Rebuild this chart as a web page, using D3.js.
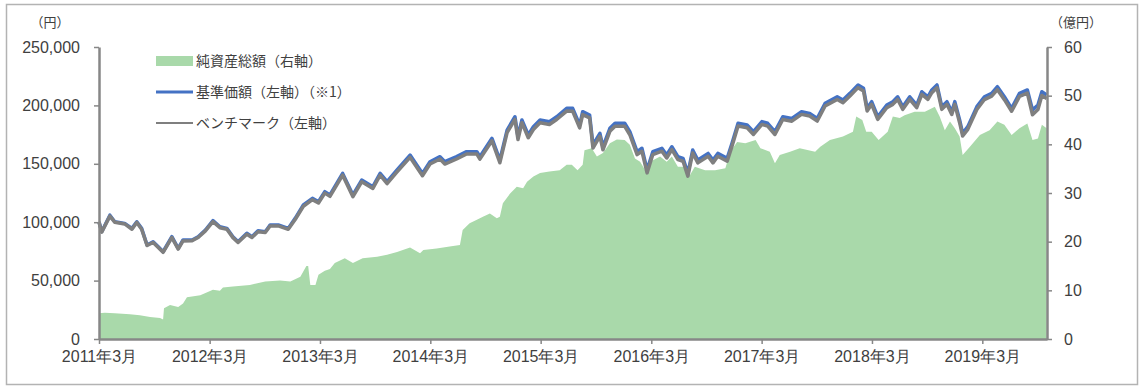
<!DOCTYPE html>
<html>
<head>
<meta charset="utf-8">
<script src="https://cdn.jsdelivr.net/npm/d3@7"></script>
<style>
  body { margin: 0; background: #fff; }
  svg { display: block; font-family: "Noto Sans CJK JP", "Noto Sans", sans-serif; }
</style>
</head>
<body>
<div id="chart"></div>
<script>
// 基準価額・ベンチマーク（左軸、円）
var navDates = ["2011-03-01","2011-03-10","2011-04-06","2011-04-22","2011-05-25","2011-06-18","2011-07-04","2011-07-20","2011-08-07","2011-08-27",
  "2011-09-13","2011-09-29","2011-10-28","2011-11-18","2011-12-04","2012-01-03","2012-01-23","2012-02-16","2012-03-12","2012-04-04",
  "2012-04-27","2012-05-17","2012-06-03","2012-07-02","2012-07-19","2012-08-08","2012-09-01","2012-09-17","2012-10-14","2012-11-16",
  "2012-12-09","2013-01-05","2013-02-04","2013-02-24","2013-03-17","2013-04-03","2013-05-15","2013-06-18","2013-07-17","2013-08-23",
  "2013-09-16","2013-10-09","2013-11-11","2013-12-24","2014-02-03","2014-02-28","2014-04-02","2014-04-18","2014-05-27","2014-06-29",
  "2014-08-02","2014-08-12","2014-09-21","2014-10-17","2014-11-10","2014-12-06","2014-12-16","2014-12-29","2015-01-19","2015-02-05",
  "2015-02-27","2015-03-30","2015-04-23","2015-05-26","2015-06-15","2015-07-08","2015-07-18","2015-08-10","2015-08-21","2015-09-13",
  "2015-09-23","2015-10-16","2015-11-02","2015-12-04","2015-12-21","2016-01-14","2016-01-30","2016-02-16","2016-03-06","2016-04-05",
  "2016-04-21","2016-05-08","2016-05-28","2016-06-14","2016-06-30","2016-07-16","2016-08-02","2016-09-05","2016-09-21","2016-10-07",
  "2016-11-07","2016-11-23","2016-12-13","2017-01-12","2017-02-02","2017-03-02","2017-03-21","2017-04-14","2017-05-10","2017-06-09",
  "2017-07-11","2017-08-07","2017-09-01","2017-09-27","2017-11-06","2017-11-25","2017-12-18","2018-01-14","2018-02-01","2018-02-13",
  "2018-02-28","2018-03-20","2018-04-19","2018-05-09","2018-05-25","2018-06-11","2018-07-04","2018-07-27","2018-08-13","2018-09-02",
  "2018-09-15","2018-10-02","2018-10-18","2018-11-04","2018-11-20","2018-11-30","2018-12-16","2018-12-26","2019-01-12","2019-02-11",
  "2019-03-08","2019-04-01","2019-04-20","2019-05-13","2019-06-06","2019-07-02","2019-07-28","2019-08-14","2019-09-01","2019-09-14",
  "2019-09-30"];
var navValues = [100400,91900,106000,100400,99000,94700,100400,94700,80500,83300,
  79000,74700,87600,77600,84800,84800,87600,93300,101300,96100,
  94700,87600,83300,90500,87600,92700,91900,97600,97600,94700,
  103300,114700,120400,117500,126100,123300,141800,123300,136100,130400,
  141800,134700,144700,157500,141800,151800,156100,151800,156100,160400,
  160400,156100,171800,153200,178900,190300,173200,187500,174700,181800,
  187500,186100,190300,197500,197500,183200,194600,191800,166100,176100,
  164600,180400,184700,184700,177500,160400,163300,144700,160400,163300,
  157500,164600,156100,154700,141800,161800,153200,158900,153200,158900,
  154700,167500,184700,183200,177500,186100,184700,177500,190300,188900,
  194600,193200,188900,201800,207400,204600,210300,217500,214600,197500,
  203200,190300,200300,203200,207400,198900,207400,200300,211700,207400,
  213200,217500,198900,203200,194600,203200,187500,176100,181800,198900,
  207400,210300,216000,207400,197500,210300,213200,196100,200300,211700,
  208900];
var benchValues = [100000,91500,105200,100000,98500,94000,99800,94000,80000,82600,
  78400,74200,86800,77000,84000,84200,86900,92600,100500,95300,
  94000,86800,82700,89700,86900,91800,91200,96700,96800,93900,
  102300,113600,119300,116400,124900,122100,140300,121900,134600,128900,
  140200,133100,143000,155500,139800,149800,154100,149800,154100,158400,
  158300,154000,169700,150900,176700,188000,170800,185200,172300,179400,
  185100,183700,187900,195100,195000,180700,192100,189300,163500,173600,
  162000,177800,182100,182100,174900,157800,160700,142200,157900,160800,
  155000,162100,153600,152200,139400,159300,150800,156500,150800,156500,
  152300,165100,182300,180800,175100,183700,182300,175100,187900,186500,
  192300,190900,186600,199500,205100,202300,208000,215200,212300,195200,
  200900,188000,198000,200900,205100,196600,205100,198000,209400,205100,
  210900,215200,196600,200900,192300,200900,185200,173800,179500,196500,
  205000,207900,213500,204900,195000,207700,210500,192000,196500,208500,
  206000];

// 純資産総額（右軸、億円）
var assetDates = ["2011-03-01","2011-03-20","2011-04-22","2011-06-11","2011-07-14","2011-08-17","2011-09-19","2011-09-29","2011-10-02","2011-10-22",
  "2011-11-18","2011-12-04","2011-12-17","2012-01-30","2012-03-12","2012-04-04","2012-04-14","2012-05-17","2012-07-12","2012-09-01",
  "2012-10-20","2012-11-23","2012-12-26","2013-01-15","2013-01-21","2013-01-28","2013-02-14","2013-02-24","2013-03-17","2013-04-03",
  "2013-04-19","2013-05-22","2013-06-18","2013-07-20","2013-09-06","2013-10-09","2013-11-11","2013-12-24","2014-01-26","2014-02-06",
  "2014-03-22","2014-05-04","2014-06-07","2014-06-16","2014-07-09","2014-08-02","2014-08-22","2014-09-14","2014-10-07","2014-10-17",
  "2014-10-27","2014-11-20","2014-12-12","2015-01-02","2015-01-15","2015-02-05","2015-02-27","2015-03-30","2015-05-03","2015-05-26",
  "2015-06-12","2015-07-01","2015-07-18","2015-07-24","2015-08-17","2015-09-03","2015-09-23","2015-10-16","2015-11-08","2015-12-04",
  "2015-12-21","2016-01-07","2016-01-24","2016-02-10","2016-02-26","2016-03-30","2016-04-21","2016-05-08","2016-05-28","2016-06-20",
  "2016-07-07","2016-07-23","2016-08-26","2016-09-28","2016-11-01","2016-11-17","2016-12-10","2017-01-06","2017-02-09","2017-02-25",
  "2017-03-28","2017-04-14","2017-04-30","2017-06-03","2017-07-05","2017-08-25","2017-09-11","2017-10-13","2017-11-25","2017-12-28",
  "2018-01-08","2018-01-28","2018-02-10","2018-02-28","2018-03-23","2018-04-22","2018-05-09","2018-06-01","2018-06-17","2018-07-20",
  "2018-08-23","2018-09-25","2018-10-11","2018-10-28","2018-11-14","2018-11-30","2018-12-16","2018-12-26","2019-01-19","2019-02-21",
  "2019-03-25","2019-04-20","2019-05-13","2019-06-06","2019-07-02","2019-07-28","2019-08-14","2019-09-01","2019-09-14","2019-09-30"];
var assetValues = [5.3,5.4,5.3,5.1,4.9,4.5,4.3,4.0,6.3,7.0,
  6.6,7.3,8.6,9.0,10.1,9.9,10.6,10.8,11.1,11.8,
  12.0,11.8,12.8,15.0,15.0,11.1,11.1,13.2,14.0,14.4,
  15.6,16.6,15.6,16.6,16.9,17.3,17.9,18.8,17.6,18.3,
  18.6,19.0,19.3,22.4,23.8,24.5,25.1,25.8,24.8,25.1,
  27.9,29.9,31.3,31.0,32.3,33.4,34.1,34.4,34.7,35.8,
  35.8,34.7,35.8,38.8,39.2,37.5,38.2,40.2,41.0,40.9,
  39.9,37.1,36.4,34.7,36.4,37.5,36.4,37.5,35.4,35.4,
  33.7,35.4,34.7,34.7,35.1,38.5,40.5,40.2,40.9,39.2,
  38.5,36.1,37.8,38.5,39.2,38.5,39.5,40.9,41.6,42.6,
  45.7,45.0,42.6,42.6,40.9,42.6,45.7,45.4,46.0,46.7,
  46.7,47.7,45.7,42.9,44.7,43.3,41.6,37.8,39.5,41.9,
  42.9,44.7,44.0,41.9,43.3,44.3,40.9,41.2,44.0,43.3];

var leftTicks = [0, 50000, 100000, 150000, 200000, 250000];
var rightTicks = [0, 10, 20, 30, 40, 50, 60];
var xTickDates = ["2011-03-01","2012-03-01","2013-03-01","2014-03-01","2015-03-01","2016-03-01","2017-03-01","2018-03-01","2019-03-01"];
var legendLabels = ["純資産総額（右軸）", "基準価額（左軸）（※1）", "ベンチマーク（左軸）"];

var width = 1144, height = 391;
var pL = 99, pR = 1047, pT = 47, pB = 339;
var axisColor = '#878787', textColor = '#404040';
var parse = d3.timeParse('%Y-%m-%d');

var svg = d3.select('#chart').append('svg')
    .attr('width', width)
    .attr('height', height);

// 外枠
svg.append('rect')
    .attr('x', 6.5).attr('y', 4.5)
    .attr('width', 1131).attr('height', 380)
    .attr('fill', 'none')
    .attr('stroke', '#b3b3b3')
    .attr('stroke-width', 1.5);

var x = d3.scaleTime()
    .domain([parse('2011-03-01'), parse('2019-10-01')])
    .range([pL, pR]);
var yL = d3.scaleLinear().domain([0, 250000]).range([pB, pT]);
var yR = d3.scaleLinear().domain([0, 60]).range([pB, pT]);

var assets = assetDates.map(function (d, i) { return { date: parse(d), v: assetValues[i] }; });
var nav = navDates.map(function (d, i) { return { date: parse(d), v: navValues[i] }; });
var bench = navDates.map(function (d, i) { return { date: parse(d), v: benchValues[i] }; });

svg.append('path')
    .datum(assets)
    .attr('fill', '#a9d9aa')
    .attr('d', d3.area()
        .x(function (d) { return x(d.date); })
        .y0(pB)
        .y1(function (d) { return yR(d.v); }));

var line = d3.line()
    .x(function (d) { return x(d.date); })
    .y(function (d) { return yL(d.v); });

svg.append('path')
    .datum(nav)
    .attr('fill', 'none')
    .attr('stroke', '#4472c4')
    .attr('stroke-width', 3.5)
    .attr('stroke-linejoin', 'round')
    .attr('d', line);

svg.append('path')
    .datum(bench)
    .attr('fill', 'none')
    .attr('stroke', '#7f7f7f')
    .attr('stroke-width', 3.5)
    .attr('stroke-linejoin', 'round')
    .attr('d', line);

// 軸
var gL = svg.append('g')
    .attr('transform', 'translate(' + pL + ',0)')
    .call(d3.axisLeft(yL).tickValues(leftTicks).tickSize(5).tickPadding(14)
        .tickFormat(d3.format(',')).tickSizeOuter(0));
var gR = svg.append('g')
    .attr('transform', 'translate(' + pR + ',0)')
    .call(d3.axisRight(yR).tickValues(rightTicks).tickSize(5).tickPadding(12).tickSizeOuter(0));
var gB = svg.append('g')
    .attr('transform', 'translate(0,' + pB + ')')
    .call(d3.axisBottom(x).tickValues(xTickDates.map(parse)).tickSize(5).tickPadding(7)
        .tickFormat(d3.timeFormat('%Y年%-m月')).tickSizeOuter(0));

[gL, gR, gB].forEach(function (g) {
    g.select('.domain').attr('stroke', axisColor).attr('stroke-width', 2.5);
    g.selectAll('.tick line').attr('stroke', axisColor).attr('stroke-width', 1.5);
    g.selectAll('.tick text').attr('fill', textColor).style('font-size', '16px');
});

svg.append('text')
    .attr('x', 50).attr('y', 27)
    .attr('text-anchor', 'middle')
    .attr('fill', textColor)
    .style('font-size', '13px')
    .text('（円）');
svg.append('text')
    .attr('x', 1076).attr('y', 27)
    .attr('text-anchor', 'middle')
    .attr('fill', textColor)
    .style('font-size', '13px')
    .text('（億円）');

// 凡例
var lg = svg.append('g').attr('transform', 'translate(156,0)');
lg.append('rect').attr('x', 0).attr('y', 56).attr('width', 37).attr('height', 10).attr('fill', '#a9d9aa');
lg.append('line').attr('x1', 0).attr('x2', 37).attr('y1', 92).attr('y2', 92)
    .attr('stroke', '#4472c4').attr('stroke-width', 3);
lg.append('line').attr('x1', 0).attr('x2', 37).attr('y1', 123).attr('y2', 123)
    .attr('stroke', '#7f7f7f').attr('stroke-width', 2);
lg.selectAll('text.lbl')
    .data(legendLabels)
    .enter().append('text')
    .attr('class', 'lbl')
    .attr('x', 40)
    .attr('y', function (d, i) { return [61, 92, 123][i]; })
    .attr('dy', '0.35em')
    .attr('fill', textColor)
    .style('font-size', '14px')
    .text(function (d) { return d; });
</script>
</body>
</html>
